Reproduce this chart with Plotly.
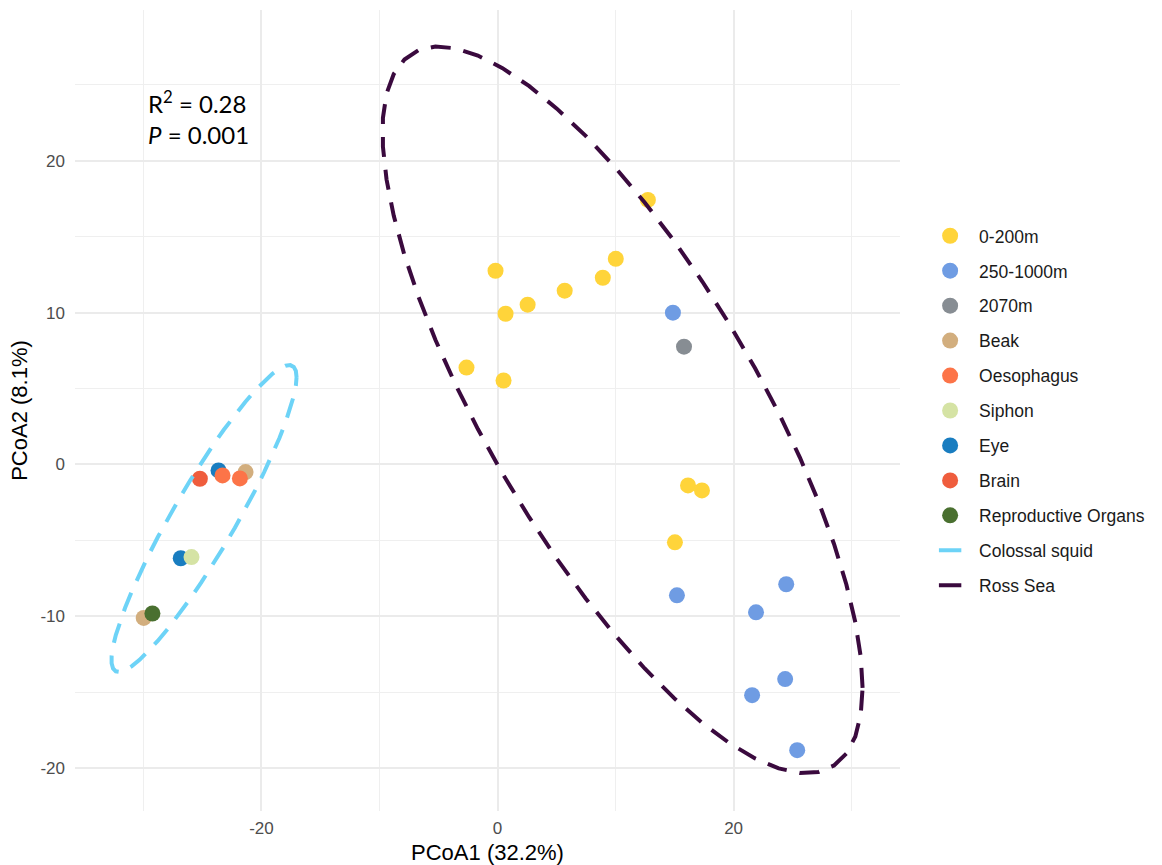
import numpy as np
import plotly.graph_objects as go

# ---------------- data ----------------
d0_200_x = [12.74, 10.02, 8.92, 5.69, 2.55, 0.68, -0.17, -2.63, 0.51, 16.14, 17.32, 15.03]
d0_200_y = [17.43, 13.55, 12.30, 11.45, 10.53, 9.93, 12.76, 6.38, 5.53, -1.38, -1.71, -5.13]
d250_1000_x = [14.86, 15.20, 21.90, 24.46, 21.57, 24.37, 25.39]
d250_1000_y = [10.00, -8.62, -9.74, -7.89, -15.20, -14.14, -18.82]
d2070_x = [15.80]
d2070_y = [7.76]
beak_x = [-21.35, -29.98]
beak_y = [-0.50, -10.11]
oeso_x = [-23.30, -21.83]
oeso_y = [-0.72, -0.92]
siphon_x = [-25.93]
siphon_y = [-6.10]
eye_x = [-23.64, -26.84]
eye_y = [-0.39, -6.18]
brain_x = [-25.22]
brain_y = [-0.94]
repro_x = [-29.24]
repro_y = [-9.82]

legend_names = ["0-200m", "250-1000m", "2070m", "Beak", "Oesophagus", "Siphon",
                "Eye", "Brain", "Reproductive Organs"]
group_names = ["Colossal squid", "Ross Sea"]

# 95% ellipses: centre and scaled shape matrix per group
ellipse_center_x = [-24.87, 10.59]
ellipse_center_y = [-3.56, 3.60]
ellipse_var_x = [61.5, 413.7]
ellipse_var_y = [102.2, 573.1]
ellipse_cov_xy = [73.0, -372.5]

x_tickvals = [-20, 0, 20]
x_ticktext = ["-20", "0", "20"]
y_tickvals = [-20, -10, 0, 10, 20]
y_ticktext = ["-20", "-10", "0", "10", "20"]

colors = {
    "0-200m": "#FFD43A",
    "250-1000m": "#6F9CE3",
    "2070m": "#878D93",
    "Beak": "#D2AE7E",
    "Oesophagus": "#FC7448",
    "Siphon": "#D5E3A4",
    "Eye": "#197DC0",
    "Brain": "#EF5D3D",
    "Reproductive Organs": "#4A7030",
    "Colossal squid": "#6DD3F7",
    "Ross Sea": "#3A0A3E",
}

series = {
    "0-200m": (d0_200_x, d0_200_y),
    "250-1000m": (d250_1000_x, d250_1000_y),
    "2070m": (d2070_x, d2070_y),
    "Beak": (beak_x, beak_y),
    "Oesophagus": (oeso_x, oeso_y),
    "Siphon": (siphon_x, siphon_y),
    "Eye": (eye_x, eye_y),
    "Brain": (brain_x, brain_y),
    "Reproductive Organs": (repro_x, repro_y),
}
draw_order = ["0-200m", "250-1000m", "2070m", "Eye", "Beak", "Siphon",
              "Oesophagus", "Brain", "Reproductive Organs"]


def ellipse_path(cxv, cyv, sxx, syy, sxy, segments=51):
    # same construction as ggplot2::stat_ellipse (unit circle times chol(shape))
    shape = np.array([[sxx, sxy], [sxy, syy]])
    R = np.linalg.cholesky(shape).T
    ang = np.arange(segments + 1) * 2 * np.pi / segments
    circ = np.column_stack([np.cos(ang), np.sin(ang)])
    e = np.array([cxv, cyv]) + circ @ R
    return e[:, 0], e[:, 1]


fig = go.Figure()

for name in draw_order:
    xs, ys = series[name]
    fig.add_trace(go.Scatter(
        x=xs, y=ys, mode="markers", showlegend=False, hoverinfo="skip",
        marker=dict(size=16, color=colors[name], line=dict(width=0)),
    ))

for i, g in enumerate(group_names):
    ex, ey = ellipse_path(ellipse_center_x[i], ellipse_center_y[i],
                          ellipse_var_x[i], ellipse_var_y[i], ellipse_cov_xy[i])
    fig.add_trace(go.Scatter(
        x=ex, y=ey, mode="lines", showlegend=False, hoverinfo="skip",
        line=dict(color=colors[g], width=4, dash="20px,13px"),
    ))

# legend entries
for name in legend_names:
    fig.add_trace(go.Scatter(
        x=[None], y=[None], mode="markers", name=name, legendgroup=name,
        marker=dict(size=16, color=colors[name]),
    ))
for g in group_names:
    fig.add_trace(go.Scatter(
        x=[None], y=[None], mode="markers", name=g, legendgroup=g,
        marker=dict(symbol="line-ew", size=16, color=colors[g],
                    line=dict(color=colors[g], width=4)),
    ))

grid_major = "#EBEBEB"
grid_minor = "#EFEFEF"

fig.update_layout(
    width=1162, height=865,
    margin=dict(l=75, r=262, t=10, b=54),
    paper_bgcolor="white", plot_bgcolor="white",
    font=dict(family="Liberation Sans, Arial, sans-serif", color="#000000"),
    showlegend=True,
    legend=dict(
        x=1.0256, xanchor="left", y=0.7405, yanchor="top",
        traceorder="grouped", tracegroupgap=9.2, itemwidth=48,
        font=dict(size=17.5, color="#1A1A1A"),
        bgcolor="rgba(0,0,0,0)",
    ),
    xaxis=dict(
        range=[-35.8, 34.1], showline=False, zeroline=False, automargin=False,
        tickmode="array", tickvals=x_tickvals, ticktext=x_ticktext,
        tickfont=dict(size=17, color="#4D4D4D"), ticks="", ticklabelstandoff=5,
        showgrid=True, gridcolor=grid_major, gridwidth=2,
        minor=dict(tickmode="array", tickvals=[-30, -10, 10, 30],
                   showgrid=True, gridcolor=grid_minor, gridwidth=1.2),
        title=dict(text="PCoA1 (32.2%)", font=dict(size=22, color="#000000"), standoff=7),
    ),
    yaxis=dict(
        range=[-22.83, 29.94], showline=False, zeroline=False, automargin=False,
        tickmode="array", tickvals=y_tickvals, ticktext=y_ticktext,
        tickfont=dict(size=17, color="#4D4D4D"), ticks="", ticklabelstandoff=9,
        showgrid=True, gridcolor=grid_major, gridwidth=2,
        minor=dict(tickmode="array", tickvals=[-15, -5, 5, 15, 25],
                   showgrid=True, gridcolor=grid_minor, gridwidth=1.2),
        title=dict(text="PCoA2 (8.1%)", font=dict(size=22, color="#000000"), standoff=6),
    ),
    annotations=[dict(
        xref="paper", yref="paper", x=0.086, y=0.908, xanchor="left", yanchor="top",
        text="R<sup>2</sup> = 0.28<br><i>P</i> = 0.001", align="left", showarrow=False,
        font=dict(family="Lato, Liberation Sans, sans-serif", size=24, color="#000000"),
    )],
)

fig.write_html("out.html")
